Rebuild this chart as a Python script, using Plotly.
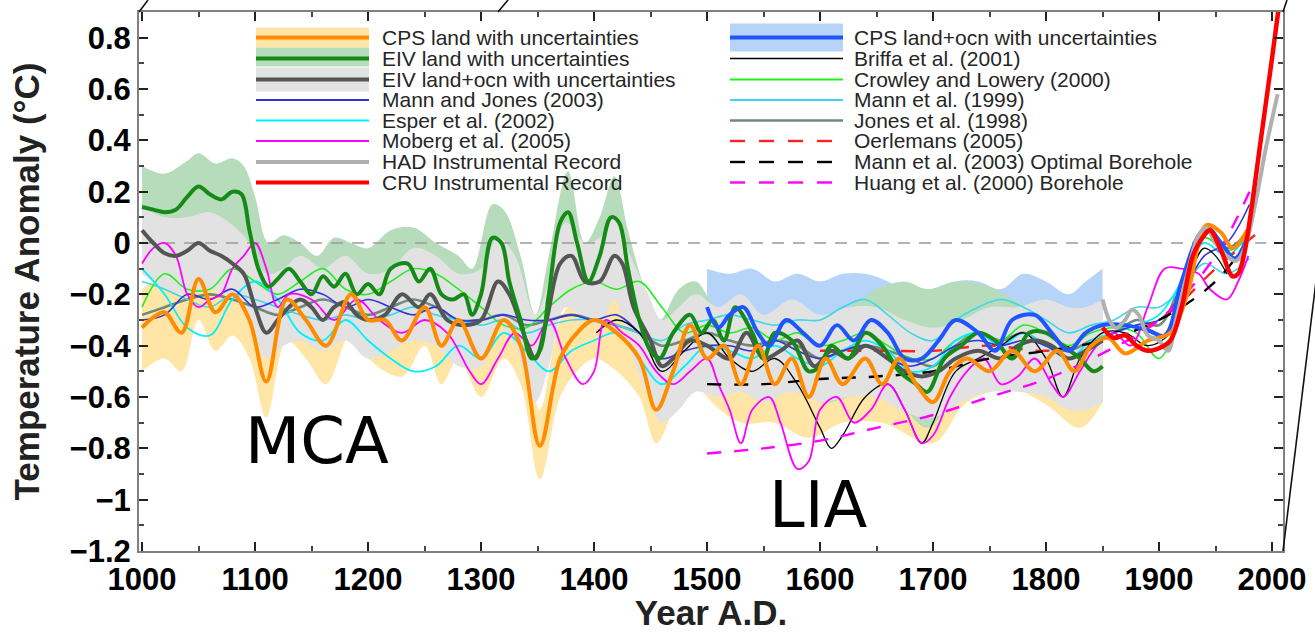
import plotly.graph_objects as go

# ---------------- data (year, anomaly in deg C) ----------------
# CPS land (orange) and its uncertainty band
cps_land_x = [1000,1010,1020,1035,1050,1065,1080,1095,1110,1128,1145,1163,1185,1200,1215,1230,1250,1265,1280,1300,1320,1335,1352,1370,1385,1400,1420,1440,1455,1470,1485,1500,1515,1530,1545,1560,1575,1590,1605,1620,1640,1655,1670,1685,1700,1715,1730,1750,1770,1790,1810,1825,1840,1855,1870,1890,1910,1925,1942,1955,1965,1978]
cps_land_y = [-0.33,-0.29,-0.27,-0.35,-0.14,-0.27,-0.2,-0.3,-0.54,-0.22,-0.3,-0.4,-0.2,-0.3,-0.3,-0.38,-0.25,-0.4,-0.3,-0.45,-0.3,-0.4,-0.79,-0.45,-0.35,-0.3,-0.35,-0.45,-0.65,-0.5,-0.32,-0.45,-0.4,-0.55,-0.4,-0.55,-0.45,-0.6,-0.45,-0.55,-0.45,-0.55,-0.45,-0.55,-0.62,-0.5,-0.45,-0.5,-0.42,-0.5,-0.42,-0.5,-0.4,-0.37,-0.43,-0.38,-0.35,-0.2,0.07,0.04,-0.02,0.05]
cps_band_x = [1000,1020,1035,1050,1065,1080,1095,1110,1128,1145,1163,1185,1200,1230,1250,1265,1280,1300,1320,1335,1352,1370,1385,1400,1420,1440,1455,1470,1485,1500,1530,1560,1590,1620,1655,1700,1730,1770,1800,1830,1850]
cps_band_lo = [-0.5,-0.45,-0.5,-0.3,-0.42,-0.36,-0.45,-0.68,-0.38,-0.45,-0.55,-0.35,-0.45,-0.52,-0.4,-0.55,-0.45,-0.6,-0.45,-0.55,-0.92,-0.6,-0.5,-0.45,-0.5,-0.6,-0.78,-0.65,-0.48,-0.6,-0.7,-0.7,-0.76,-0.7,-0.7,-0.78,-0.62,-0.57,-0.63,-0.72,-0.62]
cps_band_hi = [-0.18,-0.13,-0.2,0.0,-0.12,-0.05,-0.15,-0.4,-0.07,-0.15,-0.25,-0.05,-0.15,-0.23,-0.1,-0.25,-0.15,-0.3,-0.15,-0.25,-0.65,-0.3,-0.2,-0.15,-0.2,-0.3,-0.5,-0.35,-0.18,-0.3,-0.4,-0.4,-0.45,-0.4,-0.4,-0.48,-0.32,-0.28,-0.33,-0.42,-0.32]

# EIV land (green) and band
eiv_land_x = [1000,1010,1020,1030,1040,1050,1060,1070,1080,1088,1095,1103,1112,1120,1130,1140,1150,1160,1170,1180,1190,1200,1210,1220,1235,1245,1255,1265,1275,1285,1292,1300,1310,1318,1325,1335,1345,1352,1360,1370,1377,1385,1395,1405,1415,1422,1430,1440,1450,1458,1470,1485,1495,1505,1515,1525,1540,1550,1560,1575,1590,1600,1610,1625,1640,1655,1670,1685,1695,1710,1725,1740,1755,1770,1785,1800,1815,1830,1842,1850]
eiv_land_y = [0.14,0.13,0.12,0.13,0.18,0.22,0.19,0.17,0.2,0.19,0.05,-0.1,-0.17,-0.14,-0.1,-0.15,-0.2,-0.13,-0.17,-0.12,-0.2,-0.16,-0.2,-0.1,-0.08,-0.15,-0.1,-0.2,-0.22,-0.2,-0.28,-0.2,0.02,0.0,-0.15,-0.3,-0.45,-0.42,-0.2,0.08,0.12,0.0,-0.15,-0.05,0.1,0.08,-0.1,-0.3,-0.42,-0.45,-0.35,-0.28,-0.35,-0.3,-0.38,-0.25,-0.35,-0.45,-0.35,-0.38,-0.5,-0.48,-0.4,-0.45,-0.35,-0.4,-0.5,-0.55,-0.58,-0.45,-0.4,-0.35,-0.38,-0.45,-0.35,-0.35,-0.4,-0.45,-0.5,-0.48]
eiv_band_x = [1000,1020,1040,1050,1065,1080,1090,1100,1112,1125,1140,1155,1170,1185,1200,1220,1240,1260,1280,1292,1310,1320,1335,1348,1360,1377,1392,1405,1418,1430,1445,1458,1475,1490,1510,1530,1550,1575,1600,1625,1650,1675,1695,1720,1750,1780,1810,1830,1850]
eiv_band_hi = [0.3,0.27,0.32,0.35,0.31,0.33,0.3,0.18,0.0,0.03,0.0,-0.05,0.02,0.0,-0.02,0.05,0.06,0.0,-0.05,-0.1,0.15,0.13,-0.05,-0.28,-0.05,0.28,0.0,0.1,0.26,0.05,-0.18,-0.3,-0.18,-0.15,-0.26,-0.24,-0.3,-0.27,-0.28,-0.25,-0.18,-0.15,-0.18,-0.15,-0.17,-0.24,-0.28,-0.32,-0.34]
eiv_band_lo = [0.0,-0.03,0.03,0.07,0.03,0.05,0.02,-0.12,-0.32,-0.25,-0.3,-0.33,-0.28,-0.3,-0.32,-0.25,-0.22,-0.3,-0.35,-0.42,-0.12,-0.15,-0.35,-0.6,-0.35,-0.03,-0.3,-0.2,-0.05,-0.25,-0.5,-0.6,-0.5,-0.43,-0.45,-0.4,-0.6,-0.52,-0.62,-0.6,-0.55,-0.65,-0.72,-0.6,-0.5,-0.5,-0.55,-0.6,-0.62]

# EIV land+ocean (dark gray) and band
eiv_lo_x = [1000,1010,1020,1030,1040,1050,1060,1070,1080,1090,1100,1110,1120,1130,1140,1150,1160,1170,1180,1190,1200,1215,1230,1245,1255,1270,1285,1300,1315,1325,1340,1348,1358,1370,1380,1392,1405,1418,1425,1435,1450,1460,1470,1485,1500,1520,1535,1550,1565,1580,1595,1610,1625,1640,1660,1675,1690,1705,1720,1740,1760,1775,1790,1805,1820,1835,1850]
eiv_lo_y = [0.05,0.0,-0.04,-0.05,-0.03,0.0,-0.03,-0.05,-0.08,-0.12,-0.25,-0.35,-0.3,-0.25,-0.22,-0.25,-0.3,-0.25,-0.23,-0.28,-0.3,-0.28,-0.2,-0.25,-0.2,-0.3,-0.32,-0.3,-0.15,-0.2,-0.38,-0.45,-0.3,-0.08,-0.05,-0.15,-0.15,-0.05,-0.08,-0.25,-0.38,-0.48,-0.45,-0.38,-0.4,-0.45,-0.35,-0.45,-0.42,-0.38,-0.48,-0.42,-0.45,-0.4,-0.45,-0.5,-0.52,-0.5,-0.45,-0.42,-0.45,-0.4,-0.38,-0.4,-0.45,-0.42,-0.38]
eiv_lo_band_x = [1000,1020,1040,1060,1080,1095,1110,1125,1140,1160,1180,1200,1220,1240,1260,1280,1300,1315,1330,1348,1360,1375,1392,1405,1418,1432,1448,1460,1475,1490,1510,1530,1550,1575,1600,1625,1650,1675,1700,1725,1750,1775,1800,1820,1835,1850]
eiv_lo_band_hi = [0.14,0.1,0.1,0.12,0.07,0.0,-0.12,-0.1,-0.05,-0.1,-0.05,-0.12,-0.1,-0.02,-0.05,-0.12,-0.1,0.02,-0.05,-0.28,-0.15,0.08,0.0,0.02,0.1,-0.05,-0.2,-0.3,-0.25,-0.2,-0.25,-0.2,-0.28,-0.22,-0.28,-0.25,-0.25,-0.3,-0.33,-0.3,-0.25,-0.25,-0.22,-0.25,-0.25,-0.22]
eiv_lo_band_lo = [-0.12,-0.18,-0.2,-0.18,-0.22,-0.3,-0.45,-0.4,-0.38,-0.42,-0.38,-0.45,-0.42,-0.38,-0.4,-0.48,-0.48,-0.32,-0.4,-0.62,-0.48,-0.25,-0.3,-0.32,-0.22,-0.42,-0.6,-0.7,-0.65,-0.58,-0.6,-0.58,-0.62,-0.58,-0.62,-0.6,-0.6,-0.66,-0.68,-0.62,-0.58,-0.58,-0.6,-0.65,-0.65,-0.62]

# CPS land+ocean (blue) and band
cps_lo_x = [1500,1510,1520,1532,1545,1555,1570,1585,1600,1615,1630,1645,1660,1675,1690,1705,1720,1740,1755,1770,1790,1805,1820,1835,1850,1870,1890,1905,1920,1935,1943,1955,1967,1978]
cps_lo_y = [-0.25,-0.33,-0.28,-0.25,-0.35,-0.4,-0.3,-0.35,-0.4,-0.32,-0.38,-0.3,-0.35,-0.45,-0.45,-0.38,-0.3,-0.35,-0.42,-0.3,-0.28,-0.35,-0.42,-0.35,-0.32,-0.32,-0.34,-0.36,-0.15,0.03,0.06,0.0,-0.06,0.02]
cps_lo_band_x = [1500,1520,1540,1560,1580,1600,1620,1640,1660,1680,1700,1720,1740,1760,1780,1800,1820,1835,1850]
cps_lo_band_hi = [-0.1,-0.12,-0.1,-0.15,-0.12,-0.15,-0.12,-0.12,-0.15,-0.2,-0.2,-0.15,-0.15,-0.18,-0.12,-0.15,-0.2,-0.15,-0.1]
cps_lo_band_lo = [-0.42,-0.45,-0.45,-0.52,-0.48,-0.52,-0.48,-0.45,-0.5,-0.58,-0.55,-0.48,-0.5,-0.52,-0.45,-0.5,-0.55,-0.5,-0.48]

# earlier reconstructions (20-year steps 1000..1980)
yrs20 = [1000,1020,1040,1060,1080,1100,1120,1140,1160,1180,1200,1220,1240,1260,1280,1300,1320,1340,1360,1380,1400,1420,1440,1460,1480,1500,1520,1540,1560,1580,1600,1620,1640,1660,1680,1700,1720,1740,1760,1780,1800,1820,1840,1860,1880,1900,1920,1940,1960,1980]
mann_jones_y = [-0.3,-0.28,-0.2,-0.22,-0.18,-0.25,-0.22,-0.18,-0.2,-0.25,-0.22,-0.25,-0.28,-0.25,-0.3,-0.3,-0.28,-0.3,-0.3,-0.28,-0.3,-0.28,-0.35,-0.45,-0.42,-0.4,-0.4,-0.42,-0.38,-0.42,-0.45,-0.42,-0.4,-0.45,-0.48,-0.45,-0.4,-0.38,-0.4,-0.38,-0.4,-0.45,-0.4,-0.35,-0.32,-0.3,-0.2,-0.05,0.0,0.15]
esper_y = [-0.1,-0.2,-0.33,-0.36,-0.22,-0.15,-0.22,-0.35,-0.38,-0.3,-0.38,-0.45,-0.5,-0.48,-0.4,-0.45,-0.35,-0.42,-0.5,-0.42,-0.38,-0.35,-0.45,-0.55,-0.48,-0.4,-0.42,-0.45,-0.4,-0.45,-0.48,-0.42,-0.38,-0.42,-0.5,-0.48,-0.38,-0.35,-0.4,-0.35,-0.4,-0.45,-0.38,-0.35,-0.32,-0.28,-0.15,0.0,-0.05,0.05]
crowley_y = [-0.25,-0.12,-0.18,-0.18,-0.1,-0.15,-0.2,-0.15,-0.1,-0.18,-0.2,-0.15,-0.1,-0.12,-0.18,-0.25,-0.32,-0.33,-0.25,-0.18,-0.15,-0.18,-0.15,-0.25,-0.35,-0.32,-0.35,-0.33,-0.38,-0.35,-0.4,-0.38,-0.35,-0.4,-0.45,-0.45,-0.38,-0.35,-0.38,-0.32,-0.35,-0.4,-0.35,-0.33,-0.35,-0.45,-0.25,0.02,-0.03,0.02]
mann99_y = [-0.15,-0.18,-0.22,-0.25,-0.2,-0.22,-0.25,-0.28,-0.3,-0.28,-0.3,-0.28,-0.25,-0.28,-0.3,-0.32,-0.3,-0.35,-0.32,-0.3,-0.3,-0.32,-0.35,-0.38,-0.32,-0.3,-0.28,-0.3,-0.32,-0.3,-0.3,-0.25,-0.22,-0.28,-0.35,-0.38,-0.3,-0.25,-0.22,-0.25,-0.3,-0.35,-0.32,-0.3,-0.25,-0.25,-0.18,-0.08,-0.12,-0.06]
jones98_y = [-0.28,-0.25,-0.22,-0.2,-0.22,-0.25,-0.28,-0.25,-0.22,-0.25,-0.28,-0.25,-0.22,-0.25,-0.3,-0.3,-0.28,-0.32,-0.3,-0.28,-0.3,-0.32,-0.35,-0.4,-0.38,-0.35,-0.38,-0.4,-0.38,-0.4,-0.45,-0.42,-0.4,-0.42,-0.45,-0.48,-0.4,-0.35,-0.38,-0.35,-0.4,-0.42,-0.38,-0.35,-0.3,-0.32,-0.15,0.05,-0.02,0.05]

moberg_x = [1000,1010,1020,1030,1040,1050,1060,1070,1080,1090,1100,1110,1120,1130,1150,1170,1190,1210,1230,1250,1270,1290,1300,1315,1330,1345,1360,1375,1390,1400,1410,1425,1440,1455,1470,1485,1500,1510,1520,1530,1540,1555,1565,1580,1590,1600,1615,1630,1645,1660,1675,1690,1700,1715,1730,1745,1760,1775,1790,1805,1815,1830,1845,1860,1875,1890,1905,1920,1935,1945,1960,1970,1979]
moberg_y = [-0.08,-0.02,0.0,-0.05,-0.2,-0.25,-0.22,-0.2,-0.1,-0.05,0.0,-0.1,-0.25,-0.2,-0.22,-0.3,-0.22,-0.3,-0.35,-0.3,-0.35,-0.5,-0.55,-0.45,-0.35,-0.4,-0.3,-0.45,-0.55,-0.5,-0.3,-0.35,-0.4,-0.5,-0.55,-0.5,-0.45,-0.55,-0.65,-0.78,-0.65,-0.6,-0.7,-0.88,-0.85,-0.65,-0.6,-0.7,-0.65,-0.55,-0.65,-0.78,-0.75,-0.6,-0.5,-0.45,-0.55,-0.52,-0.45,-0.55,-0.6,-0.5,-0.4,-0.35,-0.4,-0.25,-0.1,-0.1,-0.12,-0.18,-0.22,-0.15,-0.05]

briffa_x = [1402,1420,1440,1460,1480,1500,1520,1540,1560,1580,1600,1610,1620,1640,1660,1675,1690,1700,1720,1740,1760,1780,1800,1815,1830,1850,1870,1890,1910,1925,1940,1950,1960]
briffa_y = [-0.35,-0.3,-0.35,-0.5,-0.42,-0.35,-0.45,-0.5,-0.45,-0.55,-0.72,-0.8,-0.75,-0.6,-0.55,-0.65,-0.78,-0.7,-0.5,-0.45,-0.4,-0.35,-0.45,-0.6,-0.45,-0.35,-0.35,-0.4,-0.35,-0.15,-0.02,-0.05,-0.12]

oerlemans_x = [1600,1650,1700,1750,1800,1850,1900,1950,1990]
oerlemans_y = [-0.42,-0.42,-0.42,-0.4,-0.42,-0.38,-0.3,-0.1,0.05]
mann_bh_x = [1500,1550,1600,1650,1700,1750,1800,1850,1900,1950,1980]
mann_bh_y = [-0.55,-0.55,-0.53,-0.52,-0.5,-0.45,-0.42,-0.38,-0.3,-0.15,0.02]
huang_bh_x = [1500,1550,1600,1650,1700,1750,1800,1850,1900,1950,1980]
huang_bh_y = [-0.82,-0.8,-0.77,-0.72,-0.67,-0.6,-0.53,-0.43,-0.3,-0.05,0.2]

had_x = [1850,1856,1862,1870,1876,1882,1890,1900,1908,1915,1925,1935,1942,1950,1960,1968,1975,1985,1995,2005]
had_y = [-0.22,-0.3,-0.33,-0.3,-0.26,-0.28,-0.36,-0.38,-0.42,-0.3,-0.12,0.03,0.06,0.0,-0.05,-0.07,-0.03,0.15,0.38,0.58]
cru_x = [1850,1860,1870,1880,1890,1900,1910,1920,1930,1940,1945,1955,1965,1970,1975,1980,1990,2000,2006]
cru_y = [-0.33,-0.37,-0.36,-0.4,-0.42,-0.41,-0.38,-0.25,-0.05,0.03,0.05,-0.03,-0.13,-0.12,-0.05,0.08,0.4,0.72,0.92]

zero_x = [1000, 1995]
zero_y = [0, 0]

x_ticks = [1000,1100,1200,1300,1400,1500,1600,1700,1800,1900,2000]
y_ticks = [0.8,0.6,0.4,0.2,0,-0.2,-0.4,-0.6,-0.8,-1,-1.2]

# ---------------- styles ----------------
C_ORANGE, C_ORANGE_B = "#ff8c00", "#ffe5a6"
C_GREEN, C_GREEN_B = "#168a16", "#b7dcbc"
C_DGRAY, C_GRAY_B = "#555555", "#e2e2e2"
C_BLUE, C_BLUE_B = "#1f55ff", "#b6d4f7"
FONT = "Liberation Sans, Arial, Helvetica, sans-serif"

fig = go.Figure()

def band(x, lo, hi, color):
    fig.add_trace(go.Scatter(x=x, y=lo, mode="lines", line=dict(width=0, shape="spline"),
                             showlegend=False, hoverinfo="skip"))
    fig.add_trace(go.Scatter(x=x, y=hi, mode="lines", line=dict(width=0, shape="spline"),
                             fill="tonexty", fillcolor=color, showlegend=False, hoverinfo="skip"))

def line(x, y, color, width, dash=None, name=None):
    fig.add_trace(go.Scatter(x=x, y=y, mode="lines", name=name,
                             line=dict(color=color, width=width, shape="spline", smoothing=1.0, dash=dash),
                             showlegend=False))

band(cps_lo_band_x, cps_lo_band_lo, cps_lo_band_hi, C_BLUE_B)
band(cps_band_x, cps_band_lo, cps_band_hi, C_ORANGE_B)
band(eiv_band_x, eiv_band_lo, eiv_band_hi, C_GREEN_B)
band(eiv_lo_band_x, eiv_lo_band_lo, eiv_lo_band_hi, C_GRAY_B)

line(zero_x, zero_y, "#9a9a9a", 1.6, dash="12px,9px")

line(yrs20, jones98_y, "#6f8a7a", 2.6, name="Jones et al. (1998)")
line(yrs20, mann99_y, "#3ad8ea", 1.6, name="Mann et al. (1999)")
line(yrs20, crowley_y, "#22ee22", 1.6, name="Crowley and Lowery (2000)")
line(yrs20, esper_y, "#00f0ff", 1.8, name="Esper et al. (2002)")
line(yrs20, mann_jones_y, "#3333dd", 1.6, name="Mann and Jones (2003)")
line(briffa_x, briffa_y, "#000000", 1.3, name="Briffa et al. (2001)")
line(moberg_x, moberg_y, "#ff00ff", 1.8, name="Moberg et al. (2005)")

line(oerlemans_x, oerlemans_y, "#ff2020", 2.4, dash="14px,13px", name="Oerlemans (2005)")
line(mann_bh_x, mann_bh_y, "#000000", 2.4, dash="14px,13px", name="Mann et al. (2003) Optimal Borehole")
line(huang_bh_x, huang_bh_y, "#ff00ff", 2.4, dash="14px,13px", name="Huang et al. (2000) Borehole")

line(eiv_lo_x, eiv_lo_y, C_DGRAY, 4, name="EIV land+ocn")
line(eiv_land_x, eiv_land_y, C_GREEN, 4, name="EIV land")
line(cps_lo_x, cps_lo_y, C_BLUE, 4, name="CPS land+ocn")
line(cps_land_x, cps_land_y, C_ORANGE, 4, name="CPS land")
line(had_x, had_y, "#b0b0b0", 4, name="HAD Instrumental Record")
line(cru_x, cru_y, "#ff0000", 4.5, name="CRU Instrumental Record")

# ---------------- layout geometry (pixels) ----------------
W, H = 1315, 632
L, R, T, B = 139, 32, 12, 81
PW, PH = W - L - R, H - T - B

def px(x):
    return (x - L) / PW

def py(y):
    return (H - B - y) / PH

shapes = []
annotations = []

# manual legend
left_entries = [
    ("CPS land with uncertainties", C_ORANGE, 4, None, (C_ORANGE_B, 10, 10)),
    ("EIV land with uncertainties", C_GREEN, 4, None, (C_GREEN_B, 11, 8)),
    ("EIV land+ocn with uncertainties", C_DGRAY, 4, None, (C_GRAY_B, 12, 12)),
    ("Mann and Jones (2003)", "#3333dd", 2, None, None),
    ("Esper et al. (2002)", "#00f0ff", 2, None, None),
    ("Moberg et al. (2005)", "#ff00ff", 2, None, None),
    ("HAD Instrumental Record", "#b0b0b0", 4, None, None),
    ("CRU Instrumental Record", "#ff0000", 4, None, None),
]
right_entries = [
    ("CPS land+ocn with uncertainties", C_BLUE, 4, None, (C_BLUE_B, 14, 14)),
    ("Briffa et al. (2001)", "#000000", 1.5, None, None),
    ("Crowley and Lowery (2000)", "#22ee22", 2, None, None),
    ("Mann et al. (1999)", "#3ad8ea", 2, None, None),
    ("Jones et al. (1998)", "#6f8a7a", 2.6, None, None),
    ("Oerlemans (2005)", "#ff2020", 2.4, "dash", None),
    ("Mann et al. (2003) Optimal Borehole", "#000000", 2.4, "dash", None),
    ("Huang et al. (2000) Borehole", "#ff00ff", 2.4, "dash", None),
]
rows = [37.5, 58.5, 79.5, 100, 120.5, 141, 162, 182.5]

def legend_col(entries, x0, x1, xt):
    for (label, color, width, dash, bandspec), yy in zip(entries, rows):
        if bandspec:
            bc, up, dn = bandspec
            shapes.append(dict(type="rect", xref="paper", yref="paper",
                               x0=px(x0), x1=px(x1), y0=py(yy + dn), y1=py(yy - up),
                               fillcolor=bc, line=dict(width=0), layer="above"))
        if dash:
            xs = x0
            while xs < x1 - 5:
                shapes.append(dict(type="line", xref="paper", yref="paper",
                                   x0=px(xs), x1=px(min(xs + 15, x1)), y0=py(yy), y1=py(yy),
                                   line=dict(color=color, width=width), layer="above"))
                xs += 29
        else:
            shapes.append(dict(type="line", xref="paper", yref="paper",
                               x0=px(x0), x1=px(x1), y0=py(yy), y1=py(yy),
                               line=dict(color=color, width=width), layer="above"))
        annotations.append(dict(text=label, xref="paper", yref="paper", x=px(xt), y=py(yy),
                                xanchor="left", yanchor="middle", showarrow=False, borderpad=0,
                                font=dict(family=FONT, size=21, color="#262626")))

legend_col(left_entries, 256, 369, 381)
legend_col(right_entries, 730, 843, 853)

# zoom-inset connector lines
for (xa, ya, xb, yb) in [(139, 12, 148, 0), (498, 12, 508, 0), (1283, 12, 1287, 0), (1283, 551, 1318, 265)]:
    shapes.append(dict(type="line", xref="paper", yref="paper", x0=px(xa), y0=py(ya), x1=px(xb), y1=py(yb),
                       line=dict(color="#111111", width=1.6), layer="above"))

# period labels
annotations.append(dict(text="MCA", x=1155, y=-0.77, xref="x", yref="y", showarrow=False,
                        font=dict(family="DejaVu Sans, Verdana, sans-serif", size=64, color="#000000")))
annotations.append(dict(text="LIA", x=1599, y=-1.02, xref="x", yref="y", showarrow=False,
                        font=dict(family="DejaVu Sans, Verdana, sans-serif", size=64, color="#000000")))

axis_common = dict(showline=True, linecolor="#808080", linewidth=2, mirror="ticks",
                   ticks="inside", ticklen=9, tickwidth=1.5, tickcolor="#222222",
                   showgrid=False, zeroline=False,
                   tickfont=dict(family=FONT, size=31, color="#000000", weight="bold"))

fig.update_layout(
    width=W, height=H,
    margin=dict(l=L, r=R, t=T, b=B, autoexpand=False),
    paper_bgcolor="white", plot_bgcolor="white",
    showlegend=False,
    shapes=shapes, annotations=annotations,
    xaxis=dict(range=[997.3, 2009.7], tickvals=x_ticks, ticktext=[str(v) for v in x_ticks],
               minor=dict(ticks="inside", ticklen=5, tickcolor="#444444", dtick=50, tick0=1000),
               title=dict(text="Year A.D.", standoff=0,
                          font=dict(family=FONT, size=35, color="#222222", weight="bold")),
               **axis_common),
    yaxis=dict(range=[-1.2, 0.9], tickvals=y_ticks,
               minor=dict(ticks="inside", ticklen=5, tickcolor="#444444", dtick=0.1, tick0=0),
               title=dict(text="Temperature Anomaly (°C)", standoff=19,
                          font=dict(family=FONT, size=35, color="#222222", weight="bold")),
               **axis_common),
)

fig.write_html("out.html")
